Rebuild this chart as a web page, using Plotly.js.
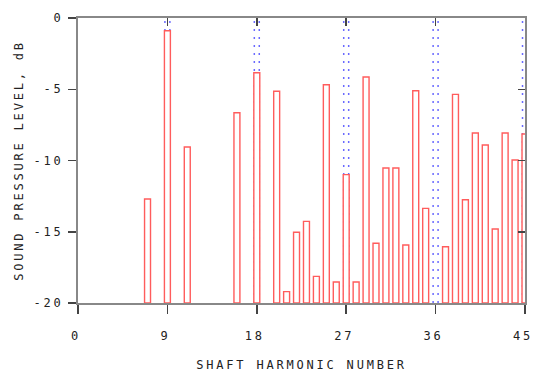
<!DOCTYPE html>
<html><head><meta charset="utf-8">
<script src="https://cdn.plot.ly/plotly-3.0.1.min.js"></script>
<style>
html,body{margin:0;padding:0;background:#fff}
#chart{width:533px;height:374px}
#chart text{letter-spacing:2.8px}
</style>
</head><body><div id="chart"></div>
<script>
const harmonics = [7, 9, 11, 16, 18, 20, 21, 22, 23, 24, 25, 26, 27, 28, 29, 30, 31, 32, 33, 34, 35, 37, 38, 39, 40, 41, 42, 43, 44, 45];
const levels = [-12.7, -0.9, -9.05, -6.65, -3.84, -5.14, -19.2, -15.04, -14.27, -18.13, -4.68, -18.53, -10.99, -18.53, -4.14, -15.81, -10.53, -10.53, -15.93, -5.1, -13.36, -16.05, -5.36, -12.75, -8.07, -8.91, -14.81, -8.07, -9.96, -8.14];
const bladeHarmonics = [9, 18, 27, 36, 45];
const xTicks = [0, 9, 18, 27, 36, 45];
const yTicks = [0, -5, -10, -15, -20];
const floorLevel = -20;

const font = {family: 'DejaVu Sans Mono, monospace', size: 12, color: '#222'};
const traces = [];
traces.push({x: harmonics, y: levels.map(v => v - floorLevel), base: floorLevel, type: 'bar', width: 0.6,
  marker: {color: '#ffffff', line: {color: '#ff5c5c', width: 1.4}}, showlegend: false, hoverinfo: 'skip'});
traces.push({x: [0], y: [0], xaxis: 'x2', yaxis: 'y2', mode: 'markers', marker: {opacity: 0}, hoverinfo: 'skip', showlegend: false});

const shapes = [];
bladeHarmonics.forEach(h => {
  [-0.25, 0.25].forEach(o => shapes.push({type: 'line', layer: 'below', xref: 'x', yref: 'y',
    x0: h + o, x1: h + o, y0: floorLevel, y1: 0, line: {color: '#6a6aff', width: 1.5, dash: '2px,6px'}}));
});

const layout = {
  width: 533, height: 374,
  margin: {l: 78, r: 8, t: 18, b: 71},
  paper_bgcolor: '#fff', plot_bgcolor: '#fff',
  font: font, bargap: 0, shapes: shapes,
  xaxis: {range: [0, 45], tickvals: xTicks, ticktext: xTicks.map(String), showgrid: false, zeroline: false,
    ticks: 'outside', ticklen: 9, tickwidth: 1.5, tickcolor: '#444', showline: true, linecolor: '#888', linewidth: 2,
    tickfont: font, ticklabelstandoff: 12, ticklabelshift: -2, ticklabeloverflow: 'allow',
    title: {text: 'SHAFT HARMONIC NUMBER', font: font, standoff: 18}},
  yaxis: {range: [-20, 0], tickvals: yTicks, ticktext: yTicks.map(String), showgrid: false, zeroline: false,
    ticks: 'outside', ticklen: 8, tickwidth: 1.5, tickcolor: '#444', showline: true, linecolor: '#888', linewidth: 2,
    tickfont: font, ticklabelstandoff: 2, ticklabeloverflow: 'allow',
    title: {text: 'SOUND PRESSURE LEVEL, dB', font: font, standoff: 16}},
  xaxis2: {range: [0, 45], overlaying: 'x', side: 'top', tickvals: xTicks, showticklabels: false, ticks: 'inside', ticklen: 8,
    tickwidth: 1.5, tickcolor: '#444', showline: true, linecolor: '#888', linewidth: 2, showgrid: false, zeroline: false},
  yaxis2: {range: [-20, 0], overlaying: 'y', side: 'right', tickvals: yTicks, showticklabels: false, ticks: 'inside', ticklen: 7,
    tickwidth: 1.5, tickcolor: '#444', showline: true, linecolor: '#888', linewidth: 2, showgrid: false, zeroline: false}
};
Plotly.newPlot('chart', traces, layout, {displayModeBar: false, staticPlot: true});
</script></body></html>
